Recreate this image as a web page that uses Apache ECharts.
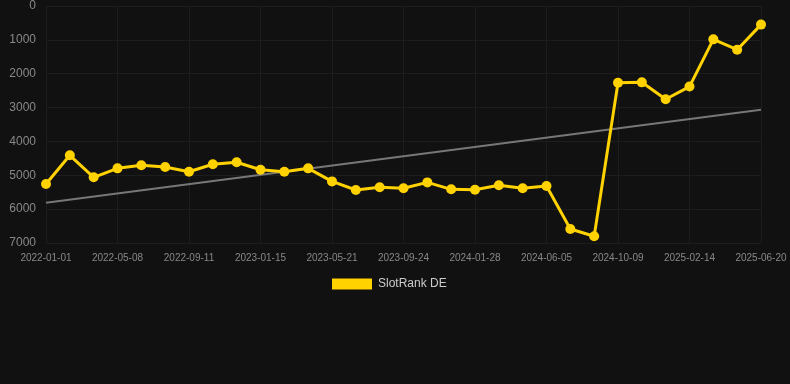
<!DOCTYPE html>
<html>
<head>
<meta charset="utf-8">
<script src="https://cdn.jsdelivr.net/npm/echarts@6/dist/echarts.min.js"></script>
<style>
html,body{margin:0;padding:0;background:#111111;}
#chart{width:790px;height:384px;}
</style>
</head>
<body>
<div id="chart"></div>
<script>
const categories = [
  '2022-01-01','2022-02-12','2022-03-26','2022-05-08','2022-06-19','2022-07-31',
  '2022-09-11','2022-10-23','2022-12-04','2023-01-15','2023-02-26','2023-04-09',
  '2023-05-21','2023-07-02','2023-08-13','2023-09-24','2023-11-05','2023-12-17',
  '2024-01-28','2024-03-10','2024-04-23','2024-06-05','2024-07-17','2024-08-28',
  '2024-10-09','2024-11-20','2025-01-02','2025-02-14','2025-03-28','2025-05-09',
  '2025-06-20'
];
const slotRankDE = [
  5257, 4410, 5060, 4795, 4705, 4755, 4895, 4675, 4615, 4835, 4895, 4795,
  5180, 5435, 5355, 5385, 5210, 5415, 5425, 5295, 5385, 5315, 6585, 6800,
  2265, 2255, 2755, 2380, 985, 1290, 550
];
const trendStart = 5810;
const trendEnd = 3062;
const trendLine = categories.map((c, i) => i === 0 ? trendStart : (i === categories.length - 1 ? trendEnd : null));

const chart = echarts.init(document.getElementById('chart'), null, {renderer: 'canvas'});
chart.setOption({
  backgroundColor: '#111111',
  animation: false,
  grid: {left: 46, right: 29, top: 6, bottom: 141, containLabel: false},
  legend: {
    data: [{name: 'SlotRank DE', icon: 'rect'}],
    top: 273,
    left: 327,
    itemWidth: 40,
    itemHeight: 11,
    itemGap: 10,
    textStyle: {color: '#cccccc', fontSize: 12, padding: [0, 0, 0, 1], fontFamily: 'Liberation Sans, Arial, sans-serif'}
  },
  xAxis: {
    type: 'category',
    data: categories,
    boundaryGap: false,
    axisLine: {show: false, onZero: false},
    axisTick: {show: false},
    axisLabel: {interval: 2, color: '#888888', fontSize: 10, margin: 10, fontFamily: 'Liberation Sans, Arial, sans-serif'},
    splitLine: {show: true, interval: 2, lineStyle: {color: '#1d1d1d', width: 1}}
  },
  yAxis: {
    type: 'value',
    inverse: true,
    min: 0,
    max: 7000,
    interval: 1000,
    axisLine: {show: false},
    axisTick: {show: false},
    axisLabel: {color: '#888888', fontSize: 12, margin: 10, formatter: v => String(v), fontFamily: 'Liberation Sans, Arial, sans-serif'},
    splitLine: {show: true, lineStyle: {color: '#1d1d1d', width: 1}}
  },
  series: [
    {
      name: 'Trend',
      type: 'line',
      data: trendLine,
      connectNulls: true,
      symbol: 'none',
      silent: true,
      lineStyle: {color: '#777777', width: 2},
      itemStyle: {color: '#777777'},
      z: 1
    },
    {
      name: 'SlotRank DE',
      type: 'line',
      data: slotRankDE,
      symbol: 'circle',
      symbolSize: 10,
      lineStyle: {color: '#FFD200', width: 3},
      itemStyle: {color: '#FFD200'},
      z: 2
    }
  ]
});
</script>
</body>
</html>
